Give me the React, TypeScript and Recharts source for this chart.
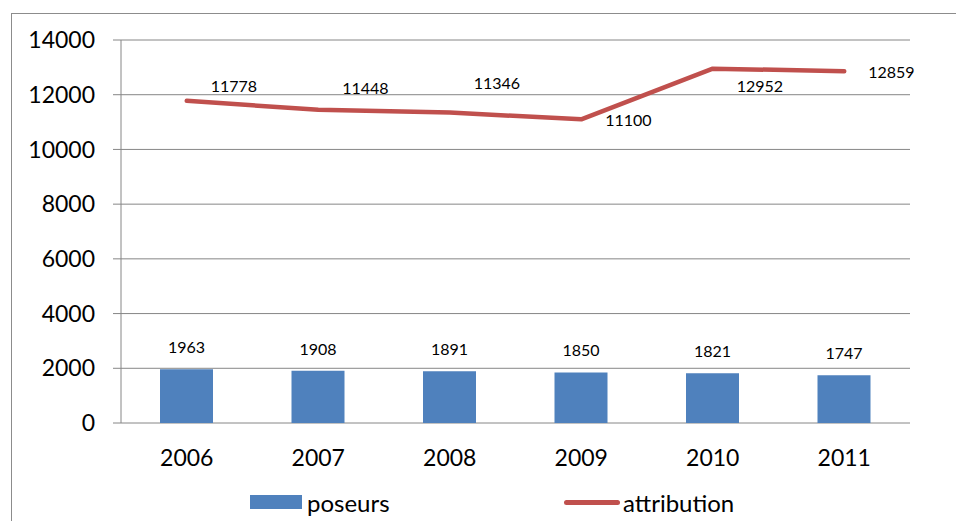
import { ComposedChart, Bar, Line, XAxis, YAxis, CartesianGrid, LabelList, Legend } from 'recharts';

const years = ['2006', '2007', '2008', '2009', '2010', '2011'];
const poseurs = [1963, 1908, 1891, 1850, 1821, 1747];
const attribution = [11778, 11448, 11346, 11100, 12952, 12859];
const yTicks = [0, 2000, 4000, 6000, 8000, 10000, 12000, 14000];

// vertical nudges for the line labels, like the manual placement in the original
const lineLabelDy = [-15, -22, -30, 0, 17, 0];

const data = years.map((year, i) => ({ year, poseurs: poseurs[i], attribution: attribution[i] }));

const FONT = 'Lato, "Open Sans", sans-serif';
const GREY = '#868686';

const LineValueLabel = (props: any) => {
  const { x, y, value, index } = props;
  return (
    <text
      x={Number(x) + 24}
      y={Number(y) + (lineLabelDy[index] ?? 0)}
      dominantBaseline="central"
      fontSize={16}
      fontFamily={FONT}
      fill="#000"
    >
      {value}
    </text>
  );
};

const LegendContent = () => (
  <div style={{ position: 'relative', height: 30, fontFamily: FONT, fontSize: 24, color: '#000' }}>
    <div style={{ position: 'absolute', left: 250, top: 7, width: 52, height: 14, background: '#4F81BD' }} />
    <span style={{ position: 'absolute', left: 307, top: 0, lineHeight: '30px' }}>poseurs</span>
    <div style={{ position: 'absolute', left: 564, top: 12, width: 56, height: 5, borderRadius: 3, background: '#C0504D' }} />
    <span style={{ position: 'absolute', left: 623, top: 0, lineHeight: '30px' }}>attribution</span>
  </div>
);

export default function App() {
  return (
    <div style={{ position: 'absolute', left: 0, top: 0, width: 956, height: 521, overflow: 'hidden', background: '#fff' }}>
      <div
        style={{
          position: 'absolute',
          left: 11,
          top: 13,
          width: 1000,
          height: 600,
          borderLeft: '1px solid #8c8c8c',
          borderTop: '1px solid #8c8c8c',
        }}
      />
      <ComposedChart width={956} height={521} data={data} margin={{ top: 40, right: 46, left: 0, bottom: 58 }}>
        <CartesianGrid vertical={false} stroke={GREY} strokeWidth={1} />
        <XAxis
          xAxisId="ticks"
          type="number"
          domain={[0, 6]}
          ticks={[0, 1, 2, 3, 4, 5, 6]}
          height={0}
          tick={false}
          tickSize={8}
          stroke={GREY}
          axisLine={{ stroke: GREY }}
          tickLine={{ stroke: GREY }}
        />
        <XAxis
          xAxisId="cat"
          dataKey="year"
          height={40}
          axisLine={false}
          tickLine={false}
          tickSize={0}
          tickMargin={27}
          tick={{ fill: '#000', fontSize: 23, fontFamily: FONT }}
        />
        <YAxis
          width={121}
          domain={[0, 14000]}
          ticks={yTicks}
          interval={0}
          tickSize={8}
          tickMargin={18}
          axisLine={{ stroke: GREY }}
          tickLine={{ stroke: GREY }}
          tick={{ fill: '#000', fontSize: 23, fontFamily: FONT }}
        />
        <Legend layout="horizontal" verticalAlign="middle" align="center" content={<LegendContent />} wrapperStyle={{ position: 'absolute', left: 0, top: 488, width: 956 }} />
        <Bar xAxisId="cat" dataKey="poseurs" fill="#4F81BD" barSize={53} isAnimationActive={false}>
          <LabelList dataKey="poseurs" position="top" offset={16} fill="#000" fontSize={16} fontFamily={FONT} />
        </Bar>
        <Line
          xAxisId="cat"
          dataKey="attribution"
          stroke="#C0504D"
          strokeWidth={4.5}
          strokeLinecap="round"
          strokeLinejoin="round"
          dot={false}
          isAnimationActive={false}
        >
          <LabelList dataKey="attribution" content={<LineValueLabel />} />
        </Line>
      </ComposedChart>
    </div>
  );
}
